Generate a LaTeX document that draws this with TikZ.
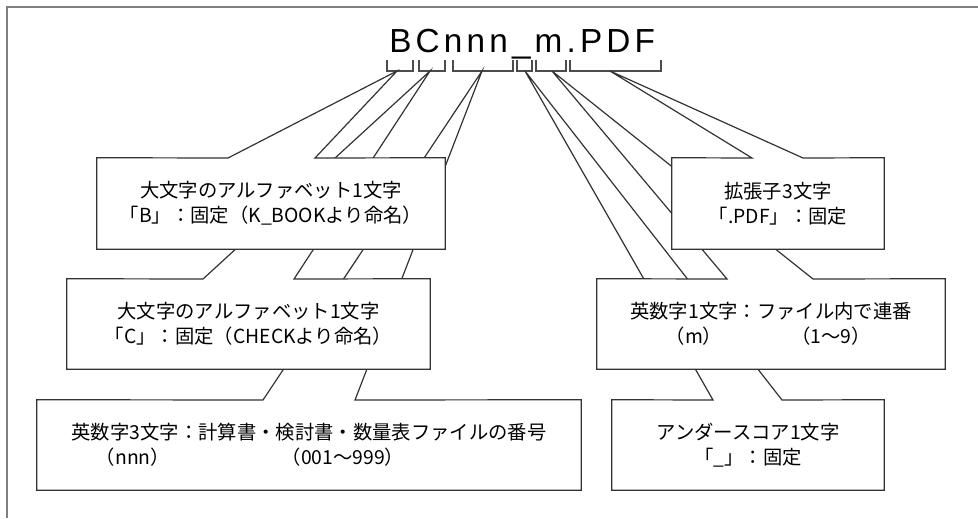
\documentclass[tikz,border=0pt]{standalone}
\usepackage{fontspec}
\setmainfont{Noto Sans CJK JP}
\newfontfamily\titlefont[LetterSpace=12.5]{Liberation Sans}
\tikzset{
        boxfill/.style = {rectangle, fill=white, inner sep=0pt},
        callout/.style = {draw=black!80, line width=0.9pt, line join=miter},
        boxtext/.style = {inner sep=0pt, align=center,
            font=\fontsize{14.5}{18.75}\selectfont},
        bracket/.style = {draw=black!70, line width=1.1pt},
        frame/.style = {draw=black!50, line width=1.6pt}
    }

\begin{document}
\begin{tikzpicture}[x=0.75pt,y=-0.75pt]
    \useasboundingbox (0,0) rectangle (978,518);
    \draw[frame] (978,7) -- (7,7) -- (7,518);
    \node[anchor=base west, inner sep=0pt,
        font=\titlefont\fontsize{25}{30}\selectfont] (title) at (389,52) {BCnnn\_m.PDF};
    % brackets under the file name
    \foreach \a/\b/\c/\n in {387/413/397/B, 419/445/430/C, 453/513/482/N,
                             517/532/525/U, 536/566/552/M, 570/661/610/P}{
        \draw[bracket] (\a,60) -- (\a,71) -- (\b,71) -- (\b,60);
        \coordinate (ap\n) at (\c,71);
    }
    \coordinate (bN1) at (263,400); \coordinate (bN2) at (355,400);
    \coordinate (bC1) at (203,279); \coordinate (bC2) at (294,279);
    \coordinate (bB1) at (228,158); \coordinate (bB2) at (315,158);
    \coordinate (bU1) at (713,400); \coordinate (bU2) at (782,400);
    \coordinate (bM1) at (727,279); \coordinate (bM2) at (813,279);
    \coordinate (bP1) at (752,158); \coordinate (bP2) at (803,158);
    % nnn
    \node[boxfill, minimum width=408pt, minimum height=67.5pt] (nN) at (309,445) {};
    \draw[callout] (nN.north west) -- (bN1) -- (apN) -- (bN2) -- (nN.north east)
        -- (nN.south east) -- (nN.south west) -- cycle;
    \node[boxtext, anchor=base] (tN1) at (309,439.7) {英数字3文字：計算書・検討書・数量表ファイルの番号};
    \node[boxtext, anchor=base] (tN2) at (133,464.7) {（nnn）};
    \node[boxtext, anchor=base] (tN3) at (343,464.7) {（001～999）};
    % C
    \node[boxfill, minimum width=272.25pt, minimum height=67.5pt] (nC) at (248.5,324) {};
    \draw[callout] (nC.north west) -- (bC1) -- (apC) -- (bC2) -- (nC.north east)
        -- (nC.south east) -- (nC.south west) -- cycle;
    \node[boxtext] (tC) at (nC) {大文字のアルファベット1文字\\「C」：固定（CHECKより命名）};
    % B
    \node[boxfill, minimum width=261pt, minimum height=68.25pt] (nB) at (271,203.5) {};
    \draw[callout] (nB.north west) -- (bB1) -- (apB) -- (bB2) -- (nB.north east)
        -- (nB.south east) -- (nB.south west) -- cycle;
    \node[boxtext] (tB) at (nB) {大文字のアルファベット1文字\\「B」：固定（K\_BOOKより命名）};
    % underscore
    \node[boxfill, minimum width=204pt, minimum height=67.5pt] (nU) at (748,445) {};
    \draw[callout] (nU.north west) -- (bU1) -- (apU) -- (bU2) -- (nU.north east)
        -- (nU.south east) -- (nU.south west) -- cycle;
    \node[boxtext] (tU) at (nU) {アンダースコア1文字\\「\_」：固定};
    % m
    \node[boxfill, minimum width=261pt, minimum height=67.5pt] (nM) at (771,324) {};
    \draw[callout] (nM.north west) -- (bM1) -- (apM) -- (bM2) -- (nM.north east)
        -- (nM.south east) -- (nM.south west) -- cycle;
    \node[boxtext, anchor=base] (tM1) at (771,318.7) {英数字1文字：ファイル内で連番};
    \node[boxtext, anchor=base] (tM2) at (694,343.7) {（m）};
    \node[boxtext, anchor=base] (tM3) at (831,343.7) {（1～9）};
    % PDF
    \node[boxfill, minimum width=159pt, minimum height=68.25pt] (nP) at (778,203.5) {};
    \draw[callout] (nP.north west) -- (bP1) -- (apP) -- (bP2) -- (nP.north east)
        -- (nP.south east) -- (nP.south west) -- cycle;
    \node[boxtext] (tP) at (nP) {拡張子3文字\\「.PDF」：固定};
\end{tikzpicture}
\end{document}
